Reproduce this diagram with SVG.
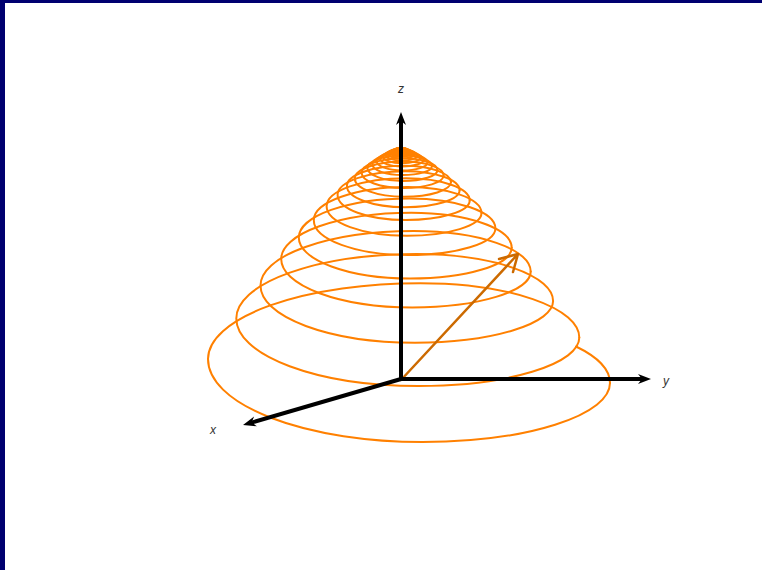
<svg xmlns="http://www.w3.org/2000/svg" width="762" height="570" viewBox="0 0 762 570">
<style>
.helix path{fill:none;stroke:#ff8000;stroke-width:2;stroke-linejoin:round;stroke-linecap:round}
.axis{fill:none;stroke:#000;stroke-width:4}
.vec{fill:none;stroke:#cc6a00;stroke-width:2.5;stroke-linecap:round;stroke-linejoin:round}
.lbl{font-family:"Liberation Sans",Arial,sans-serif;font-size:12px;font-style:italic;fill:#333}
</style>
<defs>
<marker id="ah" markerUnits="userSpaceOnUse" markerWidth="20" markerHeight="20" refX="4" refY="0" orient="auto" overflow="visible">
<path d="M12,0 L-1,-5 L3,0 L-1,5 Z" fill="#000"/>
</marker>
</defs>
<rect x="0" y="0" width="762" height="570" fill="#fff"/>
<rect x="0" y="0" width="762" height="3" fill="#000070"/>
<rect x="0" y="0" width="5" height="570" fill="#000070"/>
<g id="helix" class="helix">
<path d="M405.6,149.4 A4.6,1.6 0 0,0 401,147.8 A5.0,1.7 0 0,0 396.0,149.5 A5.0,1.9 0 0,0 401,151.4 A5.4,1.7 0 0,0 406.4,149.7"/>
<path d="M406.4,149.7 A5.4,1.9 0 0,0 401,147.8 A5.8,2.1 0 0,0 395.2,149.9 A5.8,2.2 0 0,0 401,152.1 A6.3,2.0 0 0,0 407.3,150.1"/>
<path d="M407.3,150.1 A6.3,2.2 0 0,0 401,147.9 A6.8,2.4 0 0,0 394.2,150.3 A6.8,2.6 0 0,0 401,152.9 A7.4,2.3 0 0,0 408.4,150.6"/>
<path d="M408.4,150.6 A7.4,2.6 0 0,0 401,148.0 A8.0,2.9 0 0,0 393.0,150.9 A8.0,3.0 0 0,0 401,153.9 A8.7,2.7 0 0,0 409.7,151.2"/>
<path d="M409.7,151.2 A8.7,3.0 0 0,0 401,148.2 A9.4,3.4 0 0,0 391.6,151.6 A9.4,3.5 0 0,0 401,155.1 A10.2,3.1 0 0,0 411.2,152.0"/>
<path d="M411.2,152.0 A10.2,3.5 0 0,0 401,148.5 A11.0,3.9 0 0,0 390.0,152.4 A11.0,4.2 0 0,0 401,156.6 A12.0,3.6 0 0,0 413.0,153.0"/>
<path d="M413.0,153.0 A12.0,4.1 0 0,0 401,148.9 A12.9,4.6 0 0,0 388.1,153.5 A12.9,4.9 0 0,0 401,158.4 A14.0,4.3 0 0,0 415.0,154.1"/>
<path d="M415.0,154.1 A13.4,4.7 0 0,0 401.6,149.4 A15.8,5.4 0 0,0 385.8,154.8 A15.9,5.8 0 0,0 401.7,160.6 A15.7,5.0 0 0,0 417.4,155.6"/>
<path d="M417.4,155.6 A15.6,5.6 0 0,0 401.8,150.0 A18.6,6.5 0 0,0 383.2,156.5 A18.7,6.7 0 0,0 401.9,163.2 A18.4,5.8 0 0,0 420.3,157.4"/>
<path d="M420.3,157.4 A18.3,6.5 0 0,0 402.0,150.9 A21.8,7.6 0 0,0 380.2,158.5 A21.9,7.9 0 0,0 402.1,166.4 A21.5,6.7 0 0,0 423.6,159.7"/>
<path d="M423.6,159.7 A21.4,7.6 0 0,0 402.2,152.1 A25.6,8.9 0 0,0 376.6,161.0 A25.7,9.4 0 0,0 402.3,170.4 A25.2,7.9 0 0,0 427.5,162.5"/>
<path d="M427.5,162.5 A25.0,8.9 0 0,0 402.5,153.6 A30.2,10.5 0 0,0 372.3,164.1 A30.3,11.0 0 0,0 402.6,175.1 A29.4,9.2 0 0,0 432.0,165.9"/>
<path d="M432.0,165.9 A29.2,10.3 0 0,0 402.8,155.6 A35.4,12.4 0 0,0 367.4,168.0 A35.6,12.9 0 0,0 403.0,180.9 A34.4,10.7 0 0,0 437.4,170.2"/>
<path d="M437.4,170.2 A34.1,12.0 0 0,0 403.3,158.2 A41.7,14.5 0 0,0 361.6,172.7 A41.9,15.3 0 0,0 403.5,188.0 A40.1,12.5 0 0,0 443.6,175.5"/>
<path d="M443.6,175.5 A39.8,14.0 0 0,0 403.8,161.5 A49.0,17.1 0 0,0 354.8,178.6 A49.3,18.1 0 0,0 404.1,196.7 A46.9,14.6 0 0,0 451.0,182.1"/>
<path d="M451.0,182.1 A46.5,16.3 0 0,0 404.5,165.8 A57.6,20.2 0 0,0 346.9,186.0 A58.0,21.2 0 0,0 404.9,207.2 A54.7,16.9 0 0,0 459.6,190.3"/>
<path d="M459.6,190.3 A54.3,19.1 0 0,0 405.3,171.2 A67.7,23.8 0 0,0 337.6,195.0 A68.2,25.1 0 0,0 405.8,220.1 A63.9,19.7 0 0,0 469.7,200.4"/>
<path d="M469.7,200.4 A63.3,22.2 0 0,0 406.4,178.2 A79.8,28.1 0 0,0 326.6,206.3 A80.3,29.5 0 0,0 406.9,235.8 A74.6,22.9 0 0,0 481.5,212.9"/>
<path d="M481.5,212.9 A73.8,25.8 0 0,0 407.7,187.1 A93.9,33.1 0 0,0 313.8,220.2 A94.5,34.9 0 0,0 408.3,255.1 A87.1,26.7 0 0,0 495.4,228.4"/>
<path d="M495.4,228.4 A86.1,29.9 0 0,0 409.3,198.5 A110.5,39.0 0 0,0 298.8,237.5 A111.3,41.1 0 0,0 410.1,278.6 A101.6,30.9 0 0,0 511.7,247.7"/>
<path d="M511.7,247.7 A100.4,34.9 0 0,0 411.3,212.8 A130.1,46.1 0 0,0 281.2,258.9 A131.1,48.5 0 0,0 412.3,307.4 A118.4,35.9 0 0,0 530.7,271.5"/>
<path d="M530.7,271.5 A117.0,40.5 0 0,0 413.7,231.0 A153.2,54.5 0 0,0 260.5,285.5 A154.5,57.2 0 0,0 415.0,342.7 A138.1,41.7 0 0,0 553.1,301.0"/>
<path d="M553.1,301.0 A136.4,46.9 0 0,0 416.7,254.1 A180.4,64.3 0 0,0 236.3,318.4 A182.0,67.6 0 0,0 418.3,386.0 A161.0,48.4 0 0,0 579.3,337.6"/>
<path d="M579.3,337.6 A158.8,54.4 0 0,0 420.5,283.2 A212.5,75.9 0 0,0 208.0,359.1 A214.4,82.9 0 0,0 422.4,442.0 A187.6,59.0 0 0,0 610.0,383.0"/>
<path d="M610.0,383.0 A184.8,63.2 0 0,0 576,346.5"/>
</g>
<g id="vector">
<path class="vec" d="M401,380 L518,254 M499,259 L518,254 L513,272"/>
</g>
<g id="axes">
<line id="axis-z" class="axis" x1="401" y1="381" x2="401" y2="120" marker-end="url(#ah)"/>
<line id="axis-y" class="axis" x1="399" y1="379" x2="643" y2="379" marker-end="url(#ah)"/>
<line id="axis-x" class="axis" x1="401" y1="379" x2="250.7" y2="422.8" marker-end="url(#ah)"/>
</g>
<g id="labels">
<text class="lbl" x="401" y="93" text-anchor="middle">z</text>
<text class="lbl" x="666" y="385" text-anchor="middle">y</text>
<text class="lbl" x="213" y="434" text-anchor="middle">x</text>
</g>
</svg>
